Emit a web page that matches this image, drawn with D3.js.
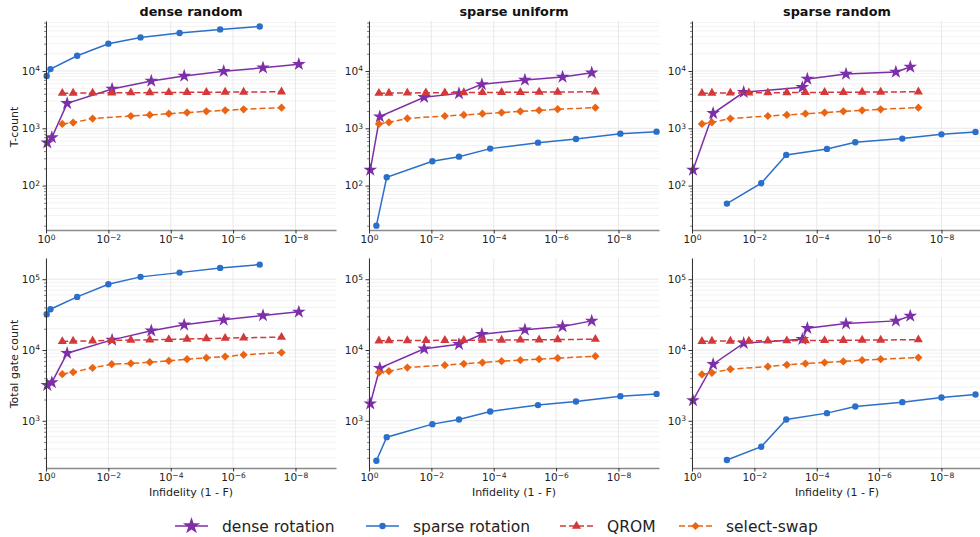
<!DOCTYPE html>
<html>
<head>
<meta charset="utf-8">
<script src="https://cdn.jsdelivr.net/npm/d3@7"></script>
<style>
  body { margin: 0; background: #fff; }
  text { font-family: "DejaVu Sans", sans-serif; }
</style>
</head>
<body>
<div id="chart"></div>
<script>
"use strict";

var panelTitles = ["dense random", "sparse uniform", "sparse random"];
var rowLabels = ["T-count", "Total gate count"];

var seriesNames = ["dense rotation", "sparse rotation", "QROM", "select-swap"];
var seriesColors = ["#7d2ea9", "#2a6fc9", "#d2393a", "#ea6414"];

// infidelity values (x)
var qromXDense = [3.0e-1, 1.35e-1, 3.2e-2, 7.8e-3, 1.9e-3, 4.7e-4, 1.15e-4, 3.0e-5, 7.2e-6, 1.8e-6, 4.6e-7, 2.8e-8];
var qromXSparse = [4.8e-1, 2.3e-1, 5.9e-2, 1.5e-2, 3.7e-3, 9.1e-4, 2.3e-4, 5.6e-5, 1.4e-5, 3.5e-6, 8.9e-7, 5.5e-8];
var swapXDense = [3.0e-1, 1.35e-1, 3.2e-2, 1.9e-3, 4.7e-4, 1.15e-4, 3.0e-5, 7.2e-6, 1.8e-6, 4.6e-7, 2.8e-8];
var swapXSparse = [4.8e-1, 2.3e-1, 5.9e-2, 3.7e-3, 9.1e-4, 2.3e-4, 5.6e-5, 1.4e-5, 3.5e-6, 8.9e-7, 5.5e-8];

var denseX = [
  [0.91, 0.65, 0.21, 7.6e-3, 4.2e-4, 3.7e-5, 2.0e-6, 1.1e-7, 7.8e-9],
  [0.91, 0.45, 1.7e-2, 1.3e-3, 2.4e-4, 1.0e-5, 6.2e-7, 7.2e-8],
  [0.93, 0.21, 2.2e-2, 2.9e-4, 2.0e-4, 1.15e-5, 2.9e-7, 1.0e-7]
];
var sparseX = [
  [0.95, 0.72, 1.0e-1, 1.0e-2, 9.3e-4, 5.2e-5, 2.6e-6, 1.4e-7],
  [0.58, 0.27, 9.3e-3, 1.3e-3, 1.3e-4, 3.8e-6, 2.3e-7, 8.7e-9, 6.0e-10],
  [7.6e-2, 6.0e-3, 9.5e-4, 4.7e-5, 5.8e-6, 1.8e-7, 1.0e-8, 8.1e-10]
];
var qromX = [qromXDense, qromXSparse, qromXSparse];
var swapXTop = [swapXDense, swapXSparse, swapXSparse];
var swapXBottom = [qromXDense, swapXSparse, swapXSparse];

// T-count (top row)
var denseT = [
  [560, 690, 2730, 4850, 6700, 8200, 9900, 11400, 13100],
  [187, 1600, 3480, 4070, 5850, 6960, 7850, 9350],
  [187, 1830, 4250, 5190, 7250, 8870, 9610, 11740]
];
var sparseT = [
  [8200, 10800, 18500, 30000, 38600, 46000, 53300, 60000],
  [20, 140, 266, 320, 442, 562, 651, 807, 875],
  [48.5, 110, 343, 437, 570, 661, 785, 864]
];
var qromT = [
  [4100, 4120, 4140, 4160, 4180, 4200, 4220, 4240, 4260, 4280, 4300, 4340],
  [4100, 4120, 4140, 4160, 4180, 4200, 4220, 4240, 4260, 4280, 4300, 4340],
  [4100, 4120, 4140, 4160, 4180, 4200, 4220, 4240, 4260, 4280, 4300, 4340]
];
var swapT = [
  [1190, 1260, 1480, 1640, 1710, 1800, 1880, 1980, 2060, 2150, 2290],
  [1190, 1270, 1490, 1640, 1710, 1800, 1880, 1980, 2060, 2160, 2290],
  [1190, 1270, 1480, 1640, 1710, 1800, 1880, 1980, 2060, 2150, 2290]
];

// total gate count (bottom row)
var denseG = [
  [3190, 3480, 9020, 13900, 18700, 22700, 26700, 30700, 34600],
  [1740, 5540, 10400, 12100, 16700, 19300, 21500, 25800],
  [1940, 6310, 12500, 14200, 20300, 23600, 25800, 30300]
];
var sparseG = [
  [32000, 37700, 56300, 85000, 108000, 124000, 144600, 161000],
  [272, 587, 897, 1045, 1355, 1665, 1875, 2230, 2400],
  [279, 430, 1045, 1283, 1592, 1835, 2135, 2350]
];
var qromG = [
  [13200, 13350, 13500, 13650, 13800, 13950, 14100, 14300, 14500, 14700, 14900, 15200],
  [13500, 13550, 13600, 13650, 13700, 13750, 13800, 13850, 13900, 13950, 14050, 14200],
  [13300, 13350, 13400, 13450, 13500, 13550, 13600, 13650, 13700, 13800, 13850, 14000]
];
var swapG = [
  [4560, 4870, 5600, 6310, 6450, 6730, 7030, 7430, 7750, 8090, 8550, 9220],
  [4810, 5020, 5660, 6110, 6380, 6660, 6960, 7190, 7420, 7670, 8190],
  [4510, 4760, 5360, 5840, 6170, 6440, 6660, 6890, 7190, 7420, 7830]
];

var xTickExp = [0, -2, -4, -6, -8];
var yTickExp = [[2, 3, 4], [3, 4, 5]];

// layout
var panelLeft = [46, 369, 692];
var panelW = 290;
var rowTop = [21, 258];
var rowH = [209, 210];
var yDomains = [[Math.pow(10, 1.225), Math.pow(10, 4.873)], [Math.pow(10, 2.333), Math.pow(10, 5.30)]];
var markerSizes = [58, 32, 36, 34];

var svg = d3.select("#chart").append("svg")
  .attr("width", 980)
  .attr("height", 537)
  .attr("style", "background:#fff;");

function markerPath(i, scale){
  var s = markerSizes[i] * (scale || 1);
  if(i == 0) return d3.symbol().type(d3.symbolStar).size(s)();
  if(i == 1) return d3.symbol().type(d3.symbolCircle).size(s)();
  if(i == 2) return d3.symbol().type(d3.symbolTriangle).size(s)();
  return d3.symbol().type(d3.symbolSquare).size(s)();
}

function powLabel(sel, e){
  sel.text(null);
  sel.append("tspan").text("10");
  sel.append("tspan")
    .attr("dy", "-0.45em")
    .attr("font-size", "0.72em")
    .text(String(e).replace("-", "\u2212"));
}

function minorTicks(dom){
  var out = [];
  var lo = Math.floor(Math.log10(dom[0])), hi = Math.ceil(Math.log10(dom[1]));
  for(var k = lo; k <= hi; k++){
    for(var m = 2; m <= 9; m++){
      var v = m * Math.pow(10, k);
      if(v >= dom[0] && v <= dom[1]) out.push(v);
    }
  }
  return out;
}

function drawSeries(g, x, y, xs, ys, i){
  var pts = xs.map(function(d, j){ return [d, ys[j]]; });
  var line = d3.line()
    .x(function(d){ return x(d[0]); })
    .y(function(d){ return y(d[1]); });
  g.append("path")
    .datum(pts)
    .attr("d", line)
    .attr("fill", "none")
    .attr("stroke", seriesColors[i])
    .attr("stroke-width", 1.5)
    .attr("stroke-dasharray", i >= 2 ? "6,3" : null);
  g.selectAll("path.m" + i)
    .data(pts)
    .enter()
      .append("path")
        .attr("class", "m" + i)
        .attr("d", markerPath(i))
        .attr("transform", function(d){
          return "translate(" + x(d[0]) + "," + y(d[1]) + ")" + (i == 3 ? " rotate(45)" : "");
        })
        .attr("fill", seriesColors[i]);
}

for(var r = 0; r < 2; r++){
  for(var c = 0; c < 3; c++){
    var g = svg.append("g").attr("transform", "translate(" + panelLeft[c] + "," + rowTop[r] + ")");
    var x = d3.scaleLog().domain([1, Math.pow(10, -9.3)]).range([0, panelW]);
    var y = d3.scaleLog().domain(yDomains[r]).range([rowH[r], 0]);
    var yMajor = yTickExp[r].map(function(e){ return Math.pow(10, e); });
    var yMinor = minorTicks(yDomains[r]);

    // grid
    g.selectAll("line.gmin").data(yMinor).enter().append("line")
      .attr("x1", 0).attr("x2", panelW)
      .attr("y1", function(d){ return y(d); }).attr("y2", function(d){ return y(d); })
      .attr("stroke", "#efefef").attr("stroke-width", 0.8);
    g.selectAll("line.gmaj").data(yMajor).enter().append("line")
      .attr("x1", 0).attr("x2", panelW)
      .attr("y1", function(d){ return y(d); }).attr("y2", function(d){ return y(d); })
      .attr("stroke", "#e3e3e3").attr("stroke-width", 0.8);
    g.selectAll("line.gx").data(xTickExp).enter().append("line")
      .attr("x1", function(d){ return x(Math.pow(10, d)); }).attr("x2", function(d){ return x(Math.pow(10, d)); })
      .attr("y1", 0).attr("y2", rowH[r])
      .attr("stroke", "#e3e3e3").attr("stroke-width", 0.8);

    // series
    var dx = [denseX[c], sparseX[c], qromX[c], r == 0 ? swapXTop[c] : swapXBottom[c]];
    var dy = r == 0 ? [denseT[c], sparseT[c], qromT[c], swapT[c]] : [denseG[c], sparseG[c], qromG[c], swapG[c]];
    for(var i = 0; i < 4; i++){
      drawSeries(g, x, y, dx[i], dy[i], i);
    }

    // axes
    var xAxis = d3.axisBottom(x)
      .tickValues(xTickExp.map(function(e){ return Math.pow(10, e); }))
      .tickSizeInner(3.5).tickSizeOuter(0).tickPadding(2.5);
    var gx = g.append("g").attr("transform", "translate(0," + rowH[r] + ")").call(xAxis);
    gx.select(".domain").attr("stroke", "#8a8a8a").attr("stroke-width", 1.3);
    gx.selectAll(".tick line").attr("stroke", "#333");
    gx.selectAll(".tick text")
      .attr("font-size", "10.5px")
      .attr("fill", "#222")
      .each(function(d, k){ powLabel(d3.select(this), xTickExp[k]); });

    var yMinorAxis = d3.axisLeft(y).tickValues(yMinor).tickSizeInner(2).tickSizeOuter(0).tickFormat("");
    var gym = g.append("g").call(yMinorAxis);
    gym.select(".domain").remove();
    gym.selectAll(".tick line").attr("stroke", "#333").attr("stroke-width", 0.6);

    var yAxis = d3.axisLeft(y).tickValues(yMajor).tickSizeInner(3.5).tickSizeOuter(0).tickPadding(2.5);
    var gy = g.append("g").call(yAxis);
    gy.select(".domain").attr("stroke", "#333").attr("stroke-width", 1);
    gy.selectAll(".tick line").attr("stroke", "#333");
    gy.selectAll(".tick text")
      .attr("font-size", "10.5px")
      .attr("fill", "#222")
      .each(function(d, k){ powLabel(d3.select(this), yTickExp[r][k]); });

    if(r == 0){
      g.append("text")
        .text(panelTitles[c])
        .attr("x", panelW / 2)
        .attr("y", -5)
        .attr("text-anchor", "middle")
        .attr("font-size", "12.8px")
        .attr("font-weight", "bold")
        .attr("fill", "#111");
    }
    else{
      g.append("text")
        .text("Infidelity (1 - F)")
        .attr("x", panelW / 2)
        .attr("y", rowH[r] + 28)
        .attr("text-anchor", "middle")
        .attr("font-size", "11px")
        .attr("fill", "#222");
    }
  }
}

// row labels
var rowLabelY = [127, 364];
rowLabels.forEach(function(t, k){
  svg.append("text")
    .text(t)
    .attr("transform", "translate(18," + rowLabelY[k] + ") rotate(-90)")
    .attr("text-anchor", "middle")
    .attr("font-size", "11px")
    .attr("fill", "#222");
});

// legend
var legendX = [175, 366, 560, 679];
var legend = svg.append("g").attr("transform", "translate(0,526)");
seriesNames.forEach(function(name, i){
  var lg = legend.append("g").attr("transform", "translate(" + legendX[i] + ",0)");
  lg.append("line")
    .attr("x1", 0).attr("x2", 33)
    .attr("stroke", seriesColors[i])
    .attr("stroke-width", 1.5)
    .attr("stroke-dasharray", i >= 2 ? "6,3" : null);
  lg.append("path")
    .attr("d", markerPath(i, i == 0 ? 1.6 : 1))
    .attr("transform", "translate(16.5,0)" + (i == 3 ? " rotate(45)" : ""))
    .attr("fill", seriesColors[i]);
  lg.append("text")
    .text(name)
    .attr("x", 47)
    .attr("y", 5.5)
    .attr("font-size", "15.5px")
    .attr("fill", "#222");
});
</script>
</body>
</html>
